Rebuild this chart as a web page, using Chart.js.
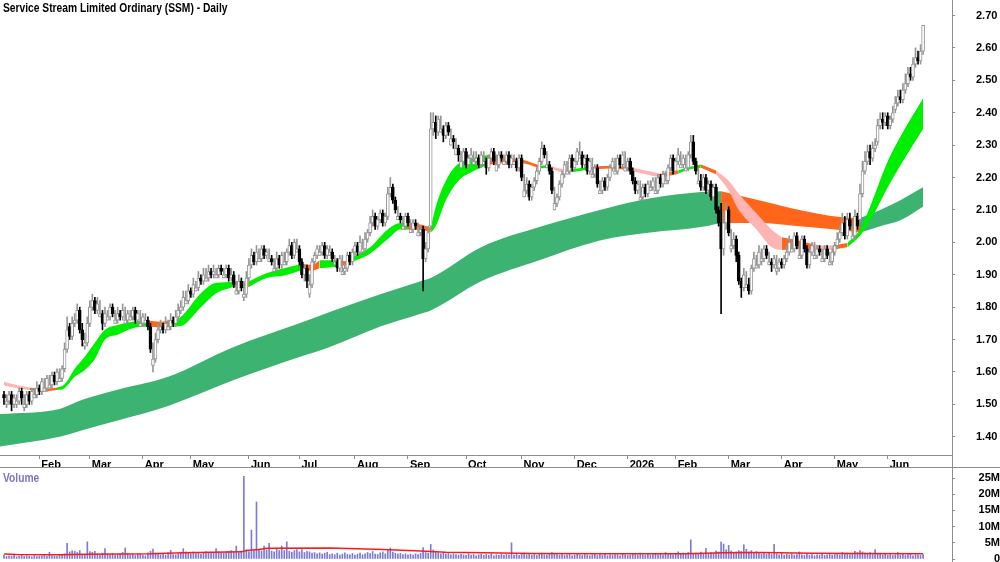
<!DOCTYPE html>
<html><head><meta charset="utf-8">
<script src="https://cdn.jsdelivr.net/npm/chart.js@4.4.1/dist/chart.umd.min.js"></script>
<style>
html,body{margin:0;padding:0;background:#fff;}
#wrap{position:relative;width:1000px;height:562px;overflow:hidden;background:#fff;}
canvas{position:absolute;left:0;}
#c1{top:0;}
#c2{top:468px;}
.lbl{position:absolute;font-family:'Liberation Sans',Arial,sans-serif;font-weight:bold;font-size:12.5px;white-space:nowrap;line-height:14px;transform:scaleX(0.82);transform-origin:0 0;}
#title{left:3px;top:1px;color:#000;}
#vol{left:3px;top:471px;color:#7878c4;}
.vl{position:absolute;left:952px;top:0;width:1px;height:562px;background:#8c8c8c;}
.hl{position:absolute;left:0;top:467px;width:1000px;height:1px;background:#8c8c8c;}
#dbg{position:absolute;left:300px;top:300px;color:red;font:14px sans-serif;}
</style></head>
<body><div id="wrap">
<canvas id="c1" width="1000" height="468"></canvas>
<canvas id="c2" width="1000" height="94"></canvas>
<div class="vl"></div><div class="hl"></div>
<div class="lbl" id="title">Service Stream Limited Ordinary (SSM) - Daily</div>
<div class="lbl" id="vol">Volume</div>
<div id="dbg"></div>
</div>
<script>
const FONT = "'Liberation Sans',Arial,sans-serif";

// ---- axis labels ----
const monthIdx = [14,34,55,74,97,117,139,160,183,205,226,247,266,287,308,329,350];
const monthLabels = ['Feb','Mar','Apr','May','Jun','Jul','Aug','Sep','Oct','Nov','Dec','2026','Feb','Mar','Apr','May','Jun'];
const priceTicks = [1.4,1.5,1.6,1.7,1.8,1.9,2.0,2.1,2.2,2.3,2.4,2.5,2.6,2.7];
const volTicks = [0,5,10,15,20,25];
const volTickLabels = ['0','5M','10M','15M','20M','25M'];

// ---- daily prices (trading day index 0..364) ----
const open = [
1.53,1.50,1.51,1.53,1.50,1.50,1.51,1.54,1.49,1.50,
1.53,1.51,1.52,1.53,1.55,1.54,1.54,1.55,1.55,1.56,
1.59,1.57,1.57,1.58,1.61,1.67,1.74,1.71,1.75,1.76,
1.79,1.73,1.68,1.69,1.75,1.80,1.82,1.79,1.77,1.78,
1.75,1.76,1.77,1.80,1.75,1.76,1.78,1.77,1.75,1.76,
1.76,1.77,1.79,1.76,1.74,1.75,1.75,1.76,1.74,1.62,
1.64,1.70,1.73,1.74,1.73,1.73,1.74,1.76,1.75,1.77,
1.79,1.80,1.81,1.82,1.85,1.84,1.85,1.86,1.89,1.88,
1.88,1.89,1.91,1.90,1.89,1.90,1.92,1.89,1.90,1.92,
1.89,1.90,1.84,1.85,1.88,1.83,1.84,1.89,1.93,1.96,
1.94,1.94,1.95,1.98,1.96,1.94,1.95,1.91,1.92,1.95,
1.93,1.93,1.94,1.97,1.99,1.96,1.97,1.98,1.94,1.90,
1.92,1.84,1.87,1.94,1.96,1.96,1.97,1.99,1.96,1.96,
1.97,1.93,1.94,1.92,1.90,1.91,1.92,1.96,1.94,1.97,
1.99,1.97,1.97,1.98,2.01,2.03,2.06,2.08,2.05,2.07,
2.09,2.06,2.08,2.15,2.17,2.13,2.07,2.08,2.04,2.05,
2.08,2.03,2.04,2.06,2.02,2.03,2.04,1.95,1.98,2.05,
2.35,2.37,2.34,2.34,2.35,2.33,2.36,2.30,2.32,2.27,
2.29,2.23,2.25,2.28,2.24,2.26,2.24,2.25,2.26,2.24,
2.24,2.25,2.23,2.26,2.28,2.22,2.24,2.27,2.24,2.25,
2.27,2.24,2.24,2.25,2.23,2.26,2.14,2.16,2.18,2.14,
2.17,2.19,2.22,2.25,2.29,2.23,2.24,2.22,2.10,2.12,
2.14,2.18,2.21,2.21,2.22,2.26,2.23,2.25,2.26,2.27,
2.24,2.26,2.22,2.20,2.21,2.23,2.15,2.16,2.19,2.17,
2.20,2.23,2.21,2.22,2.26,2.24,2.22,2.23,2.25,2.22,
2.19,2.16,2.13,2.14,2.17,2.15,2.16,2.17,2.15,2.16,
2.20,2.18,2.18,2.19,2.23,2.26,2.22,2.25,2.23,2.24,
2.22,2.23,2.27,2.31,2.25,2.18,2.19,2.17,2.20,2.16,
2.18,2.14,2.17,2.10,2.06,1.98,2.06,2.10,1.98,1.99,
2.01,1.96,1.88,1.86,1.86,1.87,1.85,1.92,1.92,1.93,
1.94,1.95,1.98,1.93,1.94,1.93,1.91,1.92,1.94,1.93,
1.95,1.97,1.97,1.98,2.02,1.95,1.96,2.01,1.98,1.93,
1.97,1.95,1.96,1.98,1.94,1.95,1.98,1.93,1.94,1.97,
1.99,2.01,2.03,2.06,2.02,2.07,2.01,2.02,2.08,2.07,
2.15,2.22,2.25,2.28,2.26,2.29,2.31,2.36,2.38,2.37,
2.39,2.36,2.38,2.41,2.43,2.45,2.44,2.47,2.49,2.52,
2.51,2.55,2.57,2.56,2.59];
const high = [
1.54,1.53,1.54,1.54,1.53,1.53,1.55,1.55,1.53,1.54,
1.54,1.55,1.55,1.57,1.56,1.58,1.58,1.59,1.59,1.60,
1.60,1.61,1.61,1.62,1.69,1.77,1.75,1.77,1.78,1.81,
1.80,1.75,1.72,1.77,1.82,1.84,1.83,1.83,1.82,1.79,
1.80,1.79,1.81,1.81,1.79,1.80,1.79,1.81,1.80,1.79,
1.79,1.80,1.80,1.79,1.79,1.78,1.78,1.77,1.75,1.69,
1.72,1.75,1.76,1.75,1.77,1.76,1.78,1.77,1.79,1.81,
1.82,1.85,1.85,1.87,1.86,1.89,1.88,1.91,1.90,1.92,
1.92,1.93,1.92,1.93,1.92,1.93,1.93,1.92,1.93,1.93,
1.92,1.91,1.88,1.90,1.89,1.88,1.91,1.95,1.98,1.97,
1.99,1.98,1.99,1.99,1.98,1.98,1.96,1.95,1.97,1.96,
1.97,1.97,1.98,2.01,2.00,2.01,2.01,1.99,1.95,1.93,
1.93,1.90,1.95,1.97,1.99,1.99,2.00,2.00,1.99,1.99,
1.98,1.96,1.95,1.96,1.96,1.93,1.97,1.97,1.98,2.00,
2.00,2.02,2.01,2.03,2.04,2.08,2.10,2.09,2.08,2.10,
2.10,2.09,2.17,2.20,2.18,2.14,2.11,2.09,2.08,2.09,
2.09,2.07,2.07,2.07,2.06,2.05,2.05,2.00,2.05,2.40,
2.40,2.39,2.39,2.39,2.36,2.37,2.37,2.35,2.33,2.32,
2.30,2.28,2.29,2.29,2.27,2.29,2.28,2.28,2.27,2.28,
2.28,2.26,2.27,2.29,2.29,2.27,2.28,2.28,2.27,2.28,
2.28,2.27,2.27,2.26,2.27,2.27,2.21,2.20,2.19,2.18,
2.20,2.23,2.26,2.31,2.30,2.28,2.25,2.23,2.17,2.15,
2.19,2.22,2.25,2.25,2.27,2.27,2.26,2.29,2.31,2.28,
2.27,2.27,2.26,2.26,2.24,2.24,2.19,2.20,2.20,2.21,
2.24,2.26,2.26,2.27,2.27,2.28,2.28,2.26,2.26,2.23,
2.20,2.19,2.19,2.18,2.18,2.19,2.19,2.20,2.20,2.21,
2.21,2.22,2.22,2.24,2.27,2.27,2.26,2.29,2.28,2.27,
2.27,2.28,2.33,2.33,2.26,2.23,2.21,2.21,2.21,2.19,
2.19,2.18,2.18,2.11,2.12,2.09,2.12,2.11,2.04,2.03,
2.02,1.97,1.89,1.92,1.91,1.89,1.93,1.97,1.96,1.99,
1.98,1.99,1.99,1.97,1.95,1.96,1.96,1.95,1.95,1.96,
1.99,2.02,2.01,2.03,2.03,2.00,2.02,2.02,1.99,1.98,
2.00,2.00,1.99,1.99,1.98,1.99,1.99,1.97,1.98,2.00,
2.03,2.05,2.09,2.08,2.09,2.09,2.06,2.10,2.09,2.18,
2.25,2.28,2.30,2.30,2.31,2.32,2.38,2.40,2.40,2.40,
2.40,2.39,2.42,2.45,2.47,2.47,2.49,2.52,2.54,2.54,
2.57,2.60,2.59,2.61,2.67];
const low = [
1.50,1.49,1.50,1.48,1.49,1.49,1.50,1.50,1.48,1.49,
1.50,1.50,1.52,1.52,1.53,1.53,1.54,1.54,1.55,1.55,
1.56,1.56,1.57,1.57,1.60,1.66,1.70,1.70,1.74,1.75,
1.72,1.68,1.67,1.68,1.74,1.79,1.78,1.78,1.77,1.73,
1.74,1.76,1.76,1.77,1.75,1.75,1.76,1.76,1.75,1.75,
1.76,1.76,1.75,1.75,1.74,1.74,1.75,1.73,1.66,1.60,
1.63,1.69,1.72,1.72,1.72,1.73,1.73,1.74,1.74,1.76,
1.78,1.79,1.81,1.81,1.83,1.83,1.85,1.85,1.87,1.87,
1.88,1.88,1.89,1.89,1.89,1.89,1.90,1.89,1.89,1.88,
1.88,1.86,1.84,1.84,1.85,1.82,1.83,1.88,1.92,1.93,
1.93,1.94,1.94,1.95,1.95,1.94,1.93,1.91,1.91,1.92,
1.92,1.93,1.93,1.96,1.95,1.95,1.97,1.93,1.89,1.88,
1.86,1.83,1.86,1.93,1.95,1.96,1.96,1.95,1.95,1.96,
1.94,1.93,1.91,1.91,1.90,1.90,1.91,1.93,1.93,1.96,
1.96,1.96,1.97,1.97,2.00,2.02,2.05,2.04,2.04,2.06,
2.05,2.05,2.07,2.14,2.12,2.09,2.07,2.06,2.04,2.04,
2.05,2.03,2.03,2.04,2.02,2.02,1.85,1.94,1.97,2.04,
2.33,2.32,2.33,2.34,2.31,2.32,2.33,2.30,2.29,2.27,
2.25,2.23,2.24,2.23,2.23,2.25,2.24,2.24,2.23,2.23,
2.24,2.21,2.22,2.25,2.24,2.22,2.23,2.25,2.24,2.24,
2.23,2.23,2.24,2.22,2.22,2.19,2.14,2.15,2.13,2.13,
2.16,2.18,2.21,2.24,2.26,2.23,2.21,2.15,2.10,2.11,
2.13,2.17,2.20,2.21,2.21,2.22,2.22,2.24,2.26,2.23,
2.23,2.21,2.21,2.20,2.20,2.17,2.15,2.15,2.16,2.16,
2.19,2.22,2.21,2.21,2.23,2.23,2.22,2.22,2.21,2.18,
2.15,2.15,2.13,2.13,2.14,2.14,2.16,2.16,2.15,2.15,
2.17,2.17,2.18,2.18,2.22,2.21,2.21,2.24,2.23,2.23,
2.22,2.22,2.26,2.24,2.21,2.18,2.16,2.16,2.15,2.15,
2.13,2.13,2.09,2.05,1.78,1.96,2.04,2.02,1.97,1.98,
1.94,1.87,1.83,1.85,1.86,1.84,1.84,1.91,1.92,1.92,
1.93,1.94,1.95,1.93,1.91,1.92,1.90,1.91,1.92,1.92,
1.94,1.96,1.97,1.97,1.98,1.95,1.95,1.97,1.92,1.92,
1.96,1.95,1.95,1.96,1.94,1.94,1.95,1.93,1.93,1.96,
1.98,2.00,2.02,2.01,2.01,2.04,2.01,2.01,2.04,2.06,
2.14,2.21,2.24,2.24,2.25,2.28,2.30,2.35,2.35,2.36,
2.35,2.35,2.37,2.40,2.42,2.43,2.43,2.46,2.48,2.50,
2.50,2.54,2.55,2.55,2.58];
const close = [
1.52,1.51,1.53,1.50,1.52,1.51,1.54,1.52,1.50,1.53,
1.51,1.54,1.53,1.55,1.54,1.57,1.55,1.58,1.56,1.59,
1.57,1.60,1.58,1.61,1.67,1.73,1.71,1.75,1.76,1.79,
1.73,1.70,1.69,1.75,1.80,1.82,1.79,1.81,1.78,1.75,
1.78,1.77,1.80,1.78,1.76,1.78,1.77,1.79,1.76,1.78,
1.77,1.79,1.76,1.78,1.75,1.77,1.76,1.74,1.67,1.64,
1.70,1.73,1.74,1.73,1.75,1.74,1.76,1.75,1.77,1.79,
1.80,1.83,1.82,1.85,1.84,1.87,1.86,1.89,1.88,1.90,
1.89,1.91,1.90,1.91,1.90,1.92,1.91,1.90,1.92,1.89,
1.90,1.87,1.85,1.88,1.86,1.84,1.89,1.93,1.96,1.94,
1.97,1.95,1.98,1.96,1.97,1.95,1.94,1.92,1.95,1.93,
1.96,1.94,1.97,1.99,1.96,2.00,1.98,1.94,1.90,1.92,
1.88,1.87,1.94,1.96,1.98,1.97,1.99,1.96,1.98,1.97,
1.95,1.94,1.92,1.95,1.91,1.92,1.96,1.94,1.97,1.99,
1.97,2.00,1.98,2.01,2.03,2.06,2.08,2.05,2.07,2.09,
2.06,2.08,2.15,2.17,2.13,2.10,2.08,2.07,2.05,2.08,
2.06,2.04,2.06,2.05,2.03,2.04,1.95,1.98,2.03,2.35,
2.37,2.34,2.38,2.35,2.33,2.36,2.34,2.32,2.31,2.29,
2.27,2.25,2.28,2.24,2.26,2.27,2.25,2.26,2.24,2.27,
2.25,2.23,2.26,2.28,2.25,2.24,2.27,2.26,2.25,2.27,
2.24,2.26,2.25,2.23,2.26,2.20,2.16,2.18,2.14,2.17,
2.19,2.22,2.25,2.29,2.27,2.24,2.22,2.16,2.12,2.14,
2.18,2.21,2.24,2.22,2.26,2.23,2.25,2.28,2.27,2.24,
2.26,2.22,2.25,2.21,2.23,2.18,2.16,2.19,2.17,2.20,
2.23,2.25,2.22,2.26,2.24,2.27,2.23,2.25,2.22,2.19,
2.16,2.18,2.14,2.17,2.15,2.18,2.17,2.19,2.16,2.20,
2.18,2.21,2.19,2.23,2.26,2.22,2.25,2.27,2.24,2.26,
2.23,2.27,2.31,2.25,2.22,2.19,2.17,2.20,2.16,2.18,
2.14,2.17,2.10,2.06,1.98,2.06,2.10,2.03,1.99,2.01,
1.96,1.88,1.86,1.90,1.87,1.85,1.92,1.95,1.93,1.97,
1.95,1.98,1.96,1.94,1.93,1.95,1.92,1.94,1.93,1.95,
1.97,2.00,1.98,2.02,1.99,1.96,2.01,1.98,1.93,1.97,
1.99,1.96,1.98,1.97,1.95,1.98,1.96,1.94,1.97,1.99,
2.01,2.03,2.06,2.02,2.07,2.05,2.02,2.08,2.05,2.15,
2.22,2.25,2.28,2.26,2.29,2.30,2.36,2.38,2.37,2.39,
2.36,2.38,2.40,2.43,2.45,2.44,2.47,2.49,2.52,2.51,
2.55,2.57,2.56,2.59,2.67];
// volume in millions
const volume = [
1.2,0.8,1.0,0.9,1.1,0.7,0.9,1.3,0.8,1.0,
0.9,0.7,1.1,0.8,0.9,1.0,1.2,0.8,2.1,1.0,
0.9,0.8,1.1,1.4,1.6,4.8,2.2,2.5,2.4,2.0,
2.6,1.5,1.4,5.3,2.3,2.1,2.4,1.6,1.3,1.8,
3.2,1.5,1.2,1.7,1.1,1.4,1.6,2.0,3.4,1.8,
1.3,1.5,1.1,1.4,1.6,1.2,1.0,1.9,2.4,3.1,
1.8,1.5,1.3,1.6,1.2,1.9,2.7,1.4,1.3,1.6,
2.1,3.2,2.2,1.9,1.6,2.2,1.7,2.0,1.5,1.8,
2.3,1.9,2.1,1.8,3.2,2.2,2.0,1.8,2.2,2.4,
2.6,2.2,4.0,2.0,2.4,25.5,2.8,2.3,8.9,2.5,
17.6,3.1,2.5,4.0,2.8,4.8,2.4,2.2,3.0,2.6,
4.0,2.6,5.3,2.4,2.1,2.6,2.9,2.2,2.9,2.0,
2.4,2.2,1.8,2.0,1.6,1.9,1.5,1.8,2.1,1.4,
1.6,1.3,1.8,1.2,1.5,1.9,1.4,1.3,1.7,1.2,
1.5,1.8,1.3,1.6,2.0,1.7,2.3,1.5,1.4,1.9,
2.2,1.6,3.0,3.4,2.1,1.8,1.5,1.7,1.4,1.6,
1.3,1.5,1.2,1.6,1.4,1.7,3.5,2.0,1.8,4.5,
2.8,2.2,1.9,1.6,2.0,1.5,1.7,1.3,1.6,1.4,
1.2,1.5,1.3,1.1,1.6,1.2,1.4,1.0,1.3,1.5,
1.1,1.4,1.2,1.6,1.0,1.3,1.1,1.5,1.2,1.4,
1.3,5.0,1.2,1.4,1.1,1.6,1.8,1.3,1.5,1.2,
1.4,1.1,1.6,1.8,1.3,1.2,1.5,2.0,1.7,1.4,
1.2,1.5,1.1,1.3,1.4,1.0,1.2,1.6,1.3,1.1,
1.4,1.2,1.0,1.3,1.5,1.1,1.4,1.2,1.6,1.0,
1.3,1.1,1.4,1.2,1.0,1.5,1.3,1.1,1.2,1.6,
1.4,1.2,1.8,1.3,1.1,1.5,1.2,1.4,1.6,1.3,
1.5,1.2,2.0,1.4,1.7,1.3,1.6,2.2,1.5,1.8,
1.4,2.0,5.9,1.6,1.8,1.5,2.1,1.7,3.3,1.6,
2.0,1.8,2.5,2.2,5.2,4.6,2.8,4.2,2.5,2.0,
2.2,2.6,2.4,4.4,3.0,2.2,2.6,1.9,2.3,1.8,
1.6,2.0,1.5,1.8,1.4,4.5,1.6,1.3,1.7,1.2,
1.5,1.3,1.6,1.2,1.4,2.2,1.3,1.1,1.5,1.2,
1.4,1.0,1.3,1.2,1.5,1.1,1.3,1.6,1.2,1.4,
1.6,1.3,2.0,1.5,1.8,1.4,1.7,2.4,2.0,2.6,
2.2,1.8,1.6,2.0,1.4,2.9,1.7,1.5,1.3,1.6,
1.2,1.4,1.1,1.3,2.0,1.2,1.5,1.1,1.4,1.6,
1.0,1.3,1.2,1.1,1.4];
// volume moving average (sampled)
const maIdx = [0,5,22,33,58,71,94,96,101,104,129,140,150,165,175,190,210,240,270,285,300,320,340,364];
const maVal = [1.55,1.4,1.35,1.5,1.6,1.9,2.2,2.6,2.9,3.3,3.4,3.2,2.9,2.5,2.1,1.9,1.7,1.6,1.6,1.9,2.0,1.8,1.7,1.6];

// ---- long-term ribbon (sampled edges) ----
const longIdx = [-1.6,22,31,45,65,91,117,129,149,165,169,189,212,236,256,276,284,299,315,331,339,347,355,364];
const longHi  = [1.47,1.486,1.514,1.545,1.585,1.677,1.75,1.785,1.84,1.88,1.89,1.985,2.047,2.10,2.136,2.155,2.158,2.13,2.10,2.078,2.075,2.10,2.13,2.17];
const longLo  = [1.37,1.40,1.42,1.45,1.495,1.575,1.646,1.677,1.74,1.78,1.79,1.88,1.945,2.006,2.03,2.047,2.06,2.06,2.05,2.038,2.03,2.05,2.068,2.11];
const longSegs = [[-1.6,284,'dkgreen'],[284,339,'orange'],[339,364,'dkgreen']];

// ---- short-term ribbon (sampled edges) ----
const shortIdx = [0,5,10,16,21,24,28,32,36,40,45,51,57,62,66,70,78,84,91,94,97,104,111,118,122,125,132,135,138,145,152,157,160,165,169,171,175,180,185,192,200,206,212,216,220,225,231,240,248,254,260,267,271,276,282,287,291,298,304,308,314,320,325,328,334,339,344,350,356,364];
const shortHi  = [1.570,1.560,1.552,1.548,1.552,1.562,1.610,1.647,1.690,1.730,1.745,1.755,1.758,1.755,1.758,1.770,1.843,1.875,1.878,1.875,1.880,1.905,1.920,1.933,1.930,1.945,1.945,1.942,1.955,1.985,2.040,2.060,2.060,2.055,2.045,2.110,2.190,2.243,2.258,2.270,2.260,2.253,2.237,2.238,2.228,2.226,2.232,2.236,2.232,2.222,2.212,2.222,2.232,2.240,2.222,2.190,2.150,2.090,2.040,2.016,2.007,1.995,1.990,1.990,1.998,2.040,2.130,2.250,2.340,2.445];
const shortLo  = [1.558,1.550,1.544,1.540,1.544,1.550,1.585,1.606,1.640,1.700,1.715,1.735,1.740,1.737,1.740,1.742,1.800,1.843,1.863,1.858,1.862,1.890,1.898,1.915,1.912,1.920,1.925,1.930,1.940,1.965,2.010,2.040,2.040,2.040,2.030,2.050,2.130,2.190,2.216,2.240,2.245,2.243,2.228,2.230,2.218,2.216,2.224,2.228,2.222,2.210,2.200,2.212,2.224,2.230,2.210,2.160,2.100,2.040,1.985,1.976,1.980,1.978,1.975,1.978,1.985,2.020,2.080,2.170,2.250,2.350];
const shortSegs = [[0,10,'pink'],[10,21,'orange'],[21,57,'green'],[57,66,'orange'],[66,91,'green'],[91,97,'orange'],[97,118,'green'],[118,125,'orange'],[125,132,'green'],[132,138,'orange'],[138,160,'green'],[160,169,'orange'],[169,192,'green'],[192,212,'orange'],[212,216,'green'],[216,225,'pink'],[225,231,'green'],[231,248,'orange'],[248,260,'pink'],[260,267,'orange'],[267,276,'green'],[276,282,'orange'],[282,308,'pink'],[308,320,'orange'],[320,328,'pink'],[328,334,'orange'],[334,364,'green']];

const colors = {green:'#00ee00', orange:'#ff661a', pink:'#ffb4b4', dkgreen:'#3cb371'};

// ---- layout constants ----
const xMin = -1.58, xMax = 375.45;
const yMin = 1.3438, yMax = 2.7478;
const vMax = 27.78;

const lens = [open.length, high.length, low.length, close.length, volume.length];
if (lens.some(l => l !== 365)) document.getElementById('dbg').textContent = 'len ' + lens.join(',');

function bandPair(idxArr, hiArr, loArr, from, to, color, order) {
  const hi = [], lo = [];
  idxArr.forEach((x, k) => { if (x >= from && x <= to) { hi.push({x, y: hiArr[k]}); lo.push({x, y: loArr[k]}); } });
  const common = {type: 'line', borderWidth: 0, pointRadius: 0, cubicInterpolationMode: 'monotone', order};
  return [
    Object.assign({data: hi, fill: '+1', backgroundColor: color, borderColor: color}, common),
    Object.assign({data: lo, fill: false, backgroundColor: color, borderColor: color}, common)
  ];
}

const datasets = [];
longSegs.forEach(s => datasets.push(...bandPair(longIdx, longHi, longLo, s[0], s[1], colors[s[2]], 20)));
shortSegs.forEach(s => datasets.push(...bandPair(shortIdx, shortHi, shortLo, s[0], s[1], colors[s[2]], 15)));

const UPC = '#969696';
const isDown = i => close[i] < open[i];
datasets.push({
  type: 'bar', order: 5, grouped: false, barThickness: 1,
  data: close.map((c, i) => ({x: i, y: [low[i], high[i]]})),
  backgroundColor: ctx => isDown(ctx.dataIndex) ? '#000' : UPC
});
datasets.push({
  type: 'bar', order: 1, grouped: false, barThickness: 3, minBarLength: 1,
  borderWidth: 1, borderSkipped: false,
  data: close.map((c, i) => ({x: i, y: [Math.min(open[i], c), Math.max(open[i], c)]})),
  backgroundColor: ctx => isDown(ctx.dataIndex) ? '#000' : '#fff',
  borderColor: ctx => isDown(ctx.dataIndex) ? '#000' : UPC
});

const tickFont = {family: FONT, weight: 'bold', size: 11};
function zeroPad(s) { s.paddingTop = 0; s.paddingBottom = 0; s.paddingLeft = 0; s.paddingRight = 0; }

new Chart(document.getElementById('c1'), {
  type: 'bar',
  data: {datasets},
  options: {
    responsive: false, animation: false, devicePixelRatio: 1, events: [],
    layout: {padding: 0},
    plugins: {legend: {display: false}, tooltip: {enabled: false}},
    scales: {
      x: {
        type: 'linear', min: xMin, max: xMax, offset: false,
        afterBuildTicks: s => { s.ticks = monthIdx.map(v => ({value: v})); },
        afterFit: s => { s.height = 13; zeroPad(s); },
        ticks: {autoSkip: false, maxRotation: 0, minRotation: 0, align: 'start', labelOffset: 2, padding: -1,
                font: tickFont, color: '#000', callback: (v, i) => monthLabels[i]},
        grid: {drawOnChartArea: false, drawTicks: true, tickLength: 4, color: '#8c8c8c', offset: false},
        border: {color: '#8c8c8c'}
      },
      y: {
        type: 'linear', position: 'right', min: yMin, max: yMax,
        afterBuildTicks: s => { s.ticks = priceTicks.map(v => ({value: v})); },
        afterFit: s => { s.width = 48; zeroPad(s); },
        ticks: {autoSkip: false, crossAlign: 'near', padding: 21, font: tickFont, color: '#000', callback: v => Number(v).toFixed(2)},
        grid: {drawOnChartArea: false, drawTicks: true, tickLength: 3, color: '#8c8c8c'},
        border: {color: '#8c8c8c'}
      }
    }
  }
});

new Chart(document.getElementById('c2'), {
  type: 'bar',
  data: {datasets: [
    {type: 'line', order: 1, data: maIdx.map((x, k) => ({x, y: maVal[k]})), borderColor: '#ff1a1a', borderWidth: 1.5, pointRadius: 0, fill: false},
    {type: 'bar', order: 2, grouped: false, barThickness: 1, data: volume.map((v, i) => ({x: i, y: v})), backgroundColor: '#7c7cd4'}
  ]},
  options: {
    responsive: false, animation: false, devicePixelRatio: 1, events: [],
    layout: {padding: {top: 1, bottom: 3, left: 0, right: 0}},
    plugins: {legend: {display: false}, tooltip: {enabled: false}},
    scales: {
      x: {type: 'linear', min: xMin, max: xMax, offset: false, display: false, grid: {offset: false}},
      y: {
        type: 'linear', position: 'right', min: 0, max: vMax,
        afterBuildTicks: s => { s.ticks = volTicks.map(v => ({value: v})); },
        afterFit: s => { s.width = 48; zeroPad(s); },
        ticks: {autoSkip: false, crossAlign: 'far', padding: 21, font: tickFont, color: '#000', callback: (v, i) => volTickLabels[i]},
        grid: {drawOnChartArea: false, drawTicks: true, tickLength: 3, color: '#8c8c8c'},
        border: {color: '#8c8c8c'}
      }
    }
  }
});
</script>
</body></html>
